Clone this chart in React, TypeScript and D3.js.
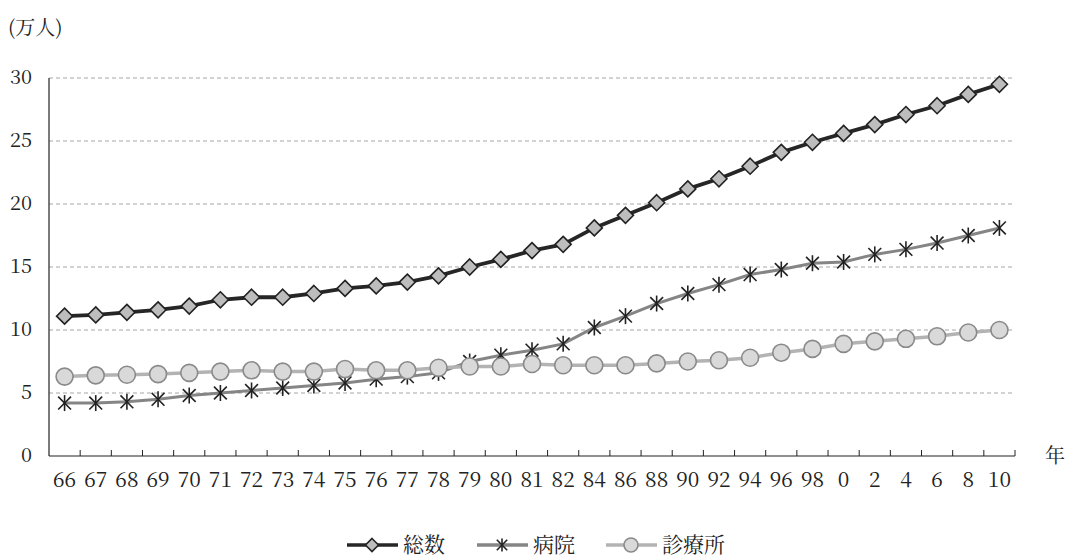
import React from "react";
import * as d3 from "d3";

// Year labels along the x axis (two-digit years, 2000s shown as 0..10)
const years = [
  "66", "67", "68", "69", "70", "71", "72", "73", "74", "75", "76", "77", "78", "79", "80", "81", "82",
  "84", "86", "88", "90", "92", "94", "96", "98", "0", "2", "4", "6", "8", "10",
];

// 総数 (total), 万人
const totalValues = [
  11.1, 11.2, 11.4, 11.6, 11.9, 12.4, 12.6, 12.6, 12.9, 13.3, 13.5, 13.8, 14.3, 15.0, 15.6, 16.3, 16.8,
  18.1, 19.1, 20.1, 21.2, 22.0, 23.0, 24.1, 24.9, 25.6, 26.3, 27.1, 27.8, 28.7, 29.5,
];

// 病院 (hospitals)
const hospitalValues = [
  4.2, 4.2, 4.3, 4.5, 4.8, 5.0, 5.2, 5.4, 5.6, 5.8, 6.1, 6.3, 6.6, 7.5, 8.0, 8.4, 8.9,
  10.2, 11.1, 12.1, 12.9, 13.6, 14.4, 14.8, 15.3, 15.4, 16.0, 16.4, 16.9, 17.5, 18.1,
];

// 診療所 (clinics)
const clinicValues = [
  6.3, 6.4, 6.45, 6.5, 6.6, 6.7, 6.8, 6.7, 6.7, 6.9, 6.8, 6.8, 7.0, 7.1, 7.1, 7.3, 7.2,
  7.2, 7.2, 7.35, 7.5, 7.6, 7.8, 8.2, 8.5, 8.9, 9.1, 9.3, 9.5, 9.8, 10.0,
];

const yTicks = [0, 5, 10, 15, 20, 25, 30];

const FONT = "'Noto Serif CJK JP', 'Liberation Serif', serif";

const W = 1067;
const H = 557;
const margin = { left: 49, right: 52, top: 78, bottom: 101 };

function Diamond({ x, y, s = 8 }: { x: number; y: number; s?: number }) {
  return (
    <path
      d={`M${x},${y - s}L${x + s},${y}L${x},${y + s}L${x - s},${y}Z`}
      fill="#bdbdbd"
      stroke="#222"
      strokeWidth={1.6}
    />
  );
}

function Star({ x, y, s = 8 }: { x: number; y: number; s?: number }) {
  const d = s * 0.8;
  return (
    <g stroke="#222" strokeWidth={1.6}>
      <line x1={x} y1={y - s} x2={x} y2={y + s} />
      <line x1={x - d} y1={y - d} x2={x + d} y2={y + d} />
      <line x1={x - d} y1={y + d} x2={x + d} y2={y - d} />
    </g>
  );
}

function Circle({ x, y, r = 8.5 }: { x: number; y: number; r?: number }) {
  return <circle cx={x} cy={y} r={r} fill="#d9d9d9" stroke="#8a8a8a" strokeWidth={1.6} />;
}

const textStyle = (size: number): React.CSSProperties => ({
  fontFamily: FONT,
  fontSize: size,
  fill: "#222",
});

export default function App() {
  const x = d3
    .scaleBand<string>()
    .domain(years)
    .range([margin.left, W - margin.right]);
  const y = d3
    .scaleLinear()
    .domain([0, 30])
    .range([H - margin.bottom, margin.top]);

  const cx = (i: number) => (x(years[i]) as number) + x.bandwidth() / 2;
  const line = d3
    .line<number>()
    .x((_, i) => cx(i))
    .y((v) => y(v));

  const x0 = margin.left;
  const x1 = W - margin.right;
  const yBase = y(0);

  const series = [
    { values: totalValues, color: "#262626", width: 3.8, marker: "diamond" },
    { values: hospitalValues, color: "#858585", width: 3, marker: "star" },
    { values: clinicValues, color: "#b3b3b3", width: 3.5, marker: "circle" },
  ];

  const legendY = 545;
  const legendItems = [
    { label: "総数", lx: 347, color: "#262626", marker: "diamond" },
    { label: "病院", lx: 477, color: "#858585", marker: "star" },
    { label: "診療所", lx: 606, color: "#b3b3b3", marker: "circle" },
  ];

  const drawMarker = (m: string, px: number, py: number, key?: string | number, small = false) => {
    if (m === "diamond") return <Diamond key={key} x={px} y={py} s={small ? 6.5 : 8} />;
    if (m === "star") return <Star key={key} x={px} y={py} s={small ? 6.5 : 8} />;
    return <Circle key={key} x={px} y={py} r={small ? 7 : 8.5} />;
  };

  return (
    <svg width={W} height={H} style={{ position: "absolute", left: 0, top: 0, background: "#fff" }}>
      {/* unit label */}
      <text x={8} y={35} style={textStyle(20)}>
        (万人)
      </text>

      {/* horizontal dashed gridlines */}
      {yTicks
        .filter((t) => t > 0)
        .map((t) => (
          <line
            key={t}
            x1={x0}
            x2={x1}
            y1={y(t)}
            y2={y(t)}
            stroke="#a6a6a6"
            strokeWidth={1}
            strokeDasharray="4,3"
          />
        ))}

      {/* y tick labels */}
      {yTicks.map((t) => (
        <text key={t} x={32} y={y(t) + 6} textAnchor="end" style={textStyle(20)}>
          {t}
        </text>
      ))}

      {/* axes */}
      <line x1={x0} x2={x0} y1={y(30)} y2={yBase} stroke="#222" strokeWidth={1.2} />
      <line x1={x0} x2={x1} y1={yBase} y2={yBase} stroke="#222" strokeWidth={1.2} />
      {years.map((yr, i) => {
        const tx = (x(yr) as number) + x.bandwidth();
        return <line key={i} x1={tx} x2={tx} y1={yBase} y2={yBase - 6} stroke="#222" strokeWidth={1} />;
      })}

      {/* x tick labels */}
      {years.map((yr, i) => (
        <text key={yr + i} x={cx(i)} y={yBase + 31} textAnchor="middle" style={textStyle(21)}>
          {yr}
        </text>
      ))}
      <text x={1045} y={yBase + 7} style={textStyle(20)}>
        年
      </text>

      {/* series lines and markers */}
      {series.map((s, si) => (
        <g key={si}>
          <path d={line(s.values) ?? ""} fill="none" stroke={s.color} strokeWidth={s.width} />
          {s.values.map((v, i) => drawMarker(s.marker, cx(i), y(v), i))}
        </g>
      ))}

      {/* legend */}
      {legendItems.map((it, i) => (
        <g key={i}>
          <line x1={it.lx} x2={it.lx + 51} y1={legendY} y2={legendY} stroke={it.color} strokeWidth={3.5} />
          {drawMarker(it.marker, it.lx + 25, legendY, undefined, true)}
          <text x={it.lx + 56} y={legendY + 7} style={textStyle(21)}>
            {it.label}
          </text>
        </g>
      ))}
    </svg>
  );
}
